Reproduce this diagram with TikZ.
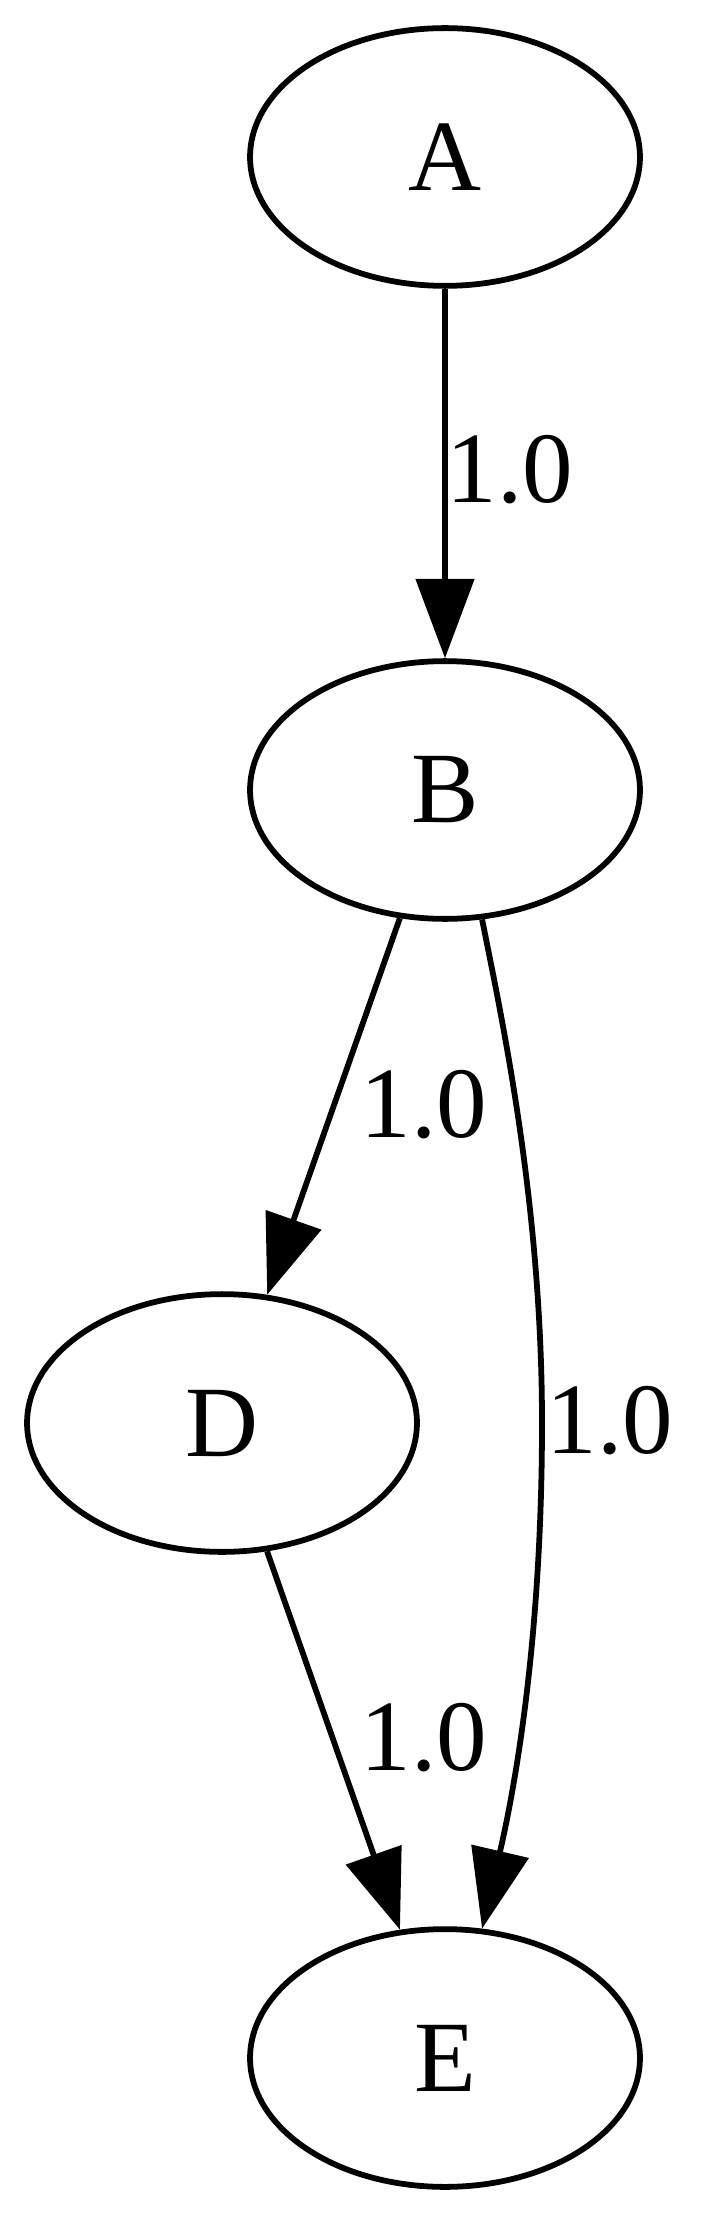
\documentclass[tikz,border=0pt]{standalone}
\usepackage{fontspec}
\setmainfont{Liberation Serif}
\usetikzlibrary{shapes.geometric,arrows.meta}
\begin{document}
\begin{tikzpicture}[x=0.1385pt,y=-0.1385pt,
  gnode/.style={ellipse,draw,line width=0.8pt,minimum width=54pt,minimum height=35.7pt,inner sep=0pt,font=\fontsize{14pt}{16pt}\selectfont},
  gedge/.style={line width=0.8pt,-{Triangle[length=11pt,width=8pt]}},
  glabel/.style={inner sep=0pt,anchor=base,font=\fontsize{14pt}{16pt}\selectfont}]
\useasboundingbox (0,0) rectangle (700,2214);
\node[gnode] (A) at (445,157) {A};
\node[gnode] (B) at (445,790) {B};
\node[gnode] (D) at (222,1423) {D};
\node[gnode] (E) at (445,2058) {E};
\draw[gedge] (A) -- (B);
\draw[gedge] (B) -- (D);
\draw[gedge] (D) -- (E);
\draw[gedge] (B.-74) .. controls (500,1010) and (542,1200) .. (542,1423) .. controls (542,1650) and (512,1800) .. (E.74);
\node[glabel] (l1) at (510,503) {1.0};
\node[glabel] (l2) at (424,1137) {1.0};
\node[glabel] (l3) at (610,1453) {1.0};
\node[glabel] (l4) at (424,1770) {1.0};
\end{tikzpicture}
\end{document}
